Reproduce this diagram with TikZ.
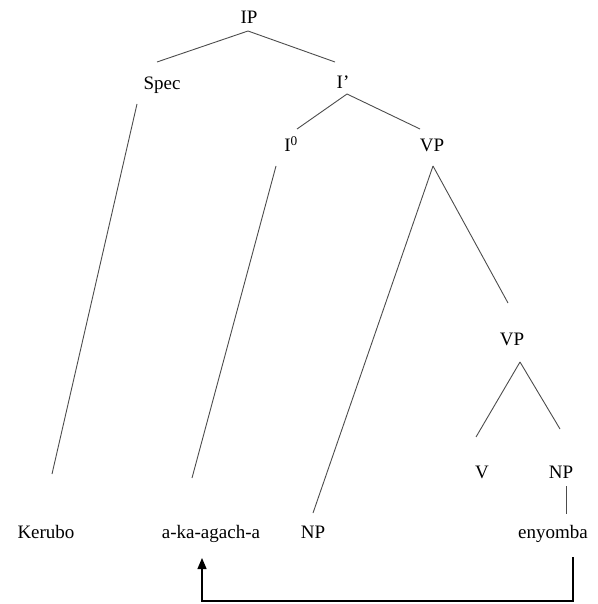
\documentclass[tikz,border=0pt]{standalone}
\usepackage{fontspec}
\setmainfont{Liberation Serif}
\usetikzlibrary{calc,arrows.meta}

\begin{document}
\begin{tikzpicture}[x=1pt,y=-1pt,font=\fontsize{19}{23}\selectfont,
    lbl/.style={inner sep=0pt,text height=13pt,text depth=0pt},
    branch/.style={black!70,line width=0.9pt}]
  \useasboundingbox (0,0) rectangle (597,604);
  % tree labels
  \node[lbl] (ip)   at (249,17)  {IP};
  \node[lbl] (spec) at (162,83)  {Spec};
  \node[lbl] (ibar) at (343,82)  {I’};
  \node[lbl] (izero) at (291,145) {I\textsuperscript{0}};
  \node[lbl] (vp)   at (432,145) {VP};
  \node[lbl] (vpb)  at (512,339) {VP};
  \node[lbl] (v)    at (482,472) {V};
  \node[lbl] (np)   at (561,472) {NP};
  % words
  \node[lbl] (kerubo) at (46,532)  {Kerubo};
  \node[lbl] (aka)    at (211,532) {a-ka-agach-a};
  \node[lbl] (npb)    at (313,532) {NP};
  \node[lbl] (eny)    at (553,532) {enyomba};
  \path[branch]
    ($(ip)+(-1,14)$)    edge ($(spec)+(-5,-21)$)
    ($(ip)+(-1,14)$)    edge ($(ibar)+(-8,-20)$)
    ($(spec)+(-25,21)$) edge ($(kerubo)+(6,-58)$)
    ($(ibar)+(4,12)$)   edge ($(izero)+(6,-16)$)
    ($(ibar)+(4,12)$)   edge ($(vp)+(-12,-16)$)
    ($(izero)+(-15,21)$) edge ($(aka)+(-19,-54)$)
    ($(vp)+(1,21)$)     edge ($(npb)+(0,-19)$)
    ($(vp)+(1,21)$)     edge ($(vpb)+(-4,-36)$)
    ($(vpb)+(8,23)$)    edge ($(v)+(-6,-35)$)
    ($(vpb)+(8,23)$)    edge ($(np)+(-1,-43)$)
    ($(np)+(5,14)$)     edge ($(eny)+(13,-18)$);
  % movement
  \draw[line width=1.3pt,-{Triangle[length=11pt,width=9pt]}]
    ($(eny)+(20,25)$) |- ($(aka)+(-9,69)$) -- ($(aka)+(-9,26)$);
\end{tikzpicture}
\end{document}
